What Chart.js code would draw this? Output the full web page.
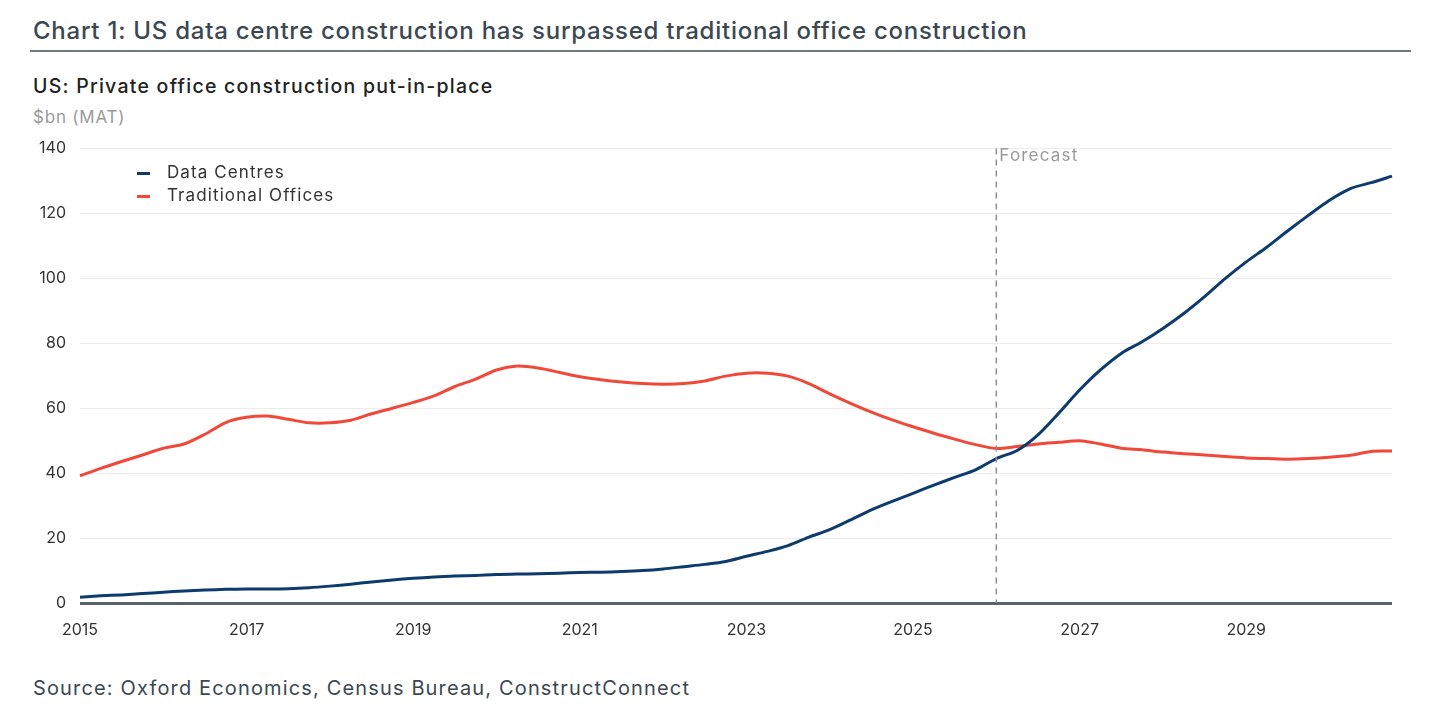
<!DOCTYPE html>
<html>
<head>
<meta charset="utf-8">
<script src="https://cdn.jsdelivr.net/npm/chart.js@4.4.1/dist/chart.umd.min.js"></script>
<style>
  body { margin: 0; background: #fff; font-family: Inter, "Noto Sans", sans-serif; }
  #wrap { position: relative; width: 1439px; height: 724px; overflow: hidden; }
  #title { position: absolute; left: 33px; top: 16px; font-size: 24px; letter-spacing: 0.75px; font-weight: 500; color: #3b4852; }
  #rule { position: absolute; left: 30px; top: 50px; width: 1381px; height: 2px; background: #6e7a83; }
  #subtitle { position: absolute; left: 33px; top: 74px; font-size: 19.5px; letter-spacing: 1.25px; font-weight: 500; color: #222; }
  #unit { position: absolute; left: 33px; top: 107px; font-size: 17px; letter-spacing: 0.8px; color: #9a9a9a; }
  #source { position: absolute; left: 33px; top: 676px; font-size: 20px; letter-spacing: 1.15px; color: #3b4852; }
  #legend { position: absolute; left: 137px; top: 161px; font-size: 17px; letter-spacing: 1.1px; color: #333; }
  .item { height: 23px; line-height: 23px; }
  .swatch { display: inline-block; width: 13px; height: 3px; vertical-align: middle; margin-right: 17px; }
  #holder { position: absolute; left: 0; top: 125px; width: 1439px; height: 535px; }
</style>
</head>
<body>
<div id="wrap">
  <div id="title">Chart 1: US data centre construction has surpassed traditional office construction</div>
  <div id="rule"></div>
  <div id="subtitle">US: Private office construction put-in-place</div>
  <div id="unit">$bn (MAT)</div>
  <div id="holder"><canvas id="chart"></canvas></div>
  <div id="legend">
    <div class="item"><span class="swatch" style="background:#0d3b6e"></span>Data Centres</div>
    <div class="item"><span class="swatch" style="background:#f0493a"></span>Traditional Offices</div>
  </div>
  <div id="source">Source: Oxford Economics, Census Bureau, ConstructConnect</div>
</div>
<script>
// quarterly, 2015 Q1 .. 2030 Q4
const quarters = [
  "2015 Q1","2015 Q2","2015 Q3","2015 Q4","2016 Q1","2016 Q2","2016 Q3","2016 Q4",
  "2017 Q1","2017 Q2","2017 Q3","2017 Q4","2018 Q1","2018 Q2","2018 Q3","2018 Q4",
  "2019 Q1","2019 Q2","2019 Q3","2019 Q4","2020 Q1","2020 Q2","2020 Q3","2020 Q4",
  "2021 Q1","2021 Q2","2021 Q3","2021 Q4","2022 Q1","2022 Q2","2022 Q3","2022 Q4",
  "2023 Q1","2023 Q2","2023 Q3","2023 Q4","2024 Q1","2024 Q2","2024 Q3","2024 Q4",
  "2025 Q1","2025 Q2","2025 Q3","2025 Q4","2026 Q1","2026 Q2","2026 Q3","2026 Q4",
  "2027 Q1","2027 Q2","2027 Q3","2027 Q4","2028 Q1","2028 Q2","2028 Q3","2028 Q4",
  "2029 Q1","2029 Q2","2029 Q3","2029 Q4","2030 Q1","2030 Q2","2030 Q3","2030 Q4"
];
const yearTicks = ["2015", "2017", "2019", "2021", "2023", "2025", "2027", "2029"];
const forecastStart = "2026 Q1";

const dataCentres = [
  1.8, 2.2, 2.5, 2.9, 3.3, 3.7, 4.0, 4.2,
  4.3, 4.3, 4.4, 4.7, 5.2, 5.8, 6.5, 7.1,
  7.6, 8.0, 8.3, 8.5, 8.8, 8.9, 9.0, 9.2,
  9.4, 9.5, 9.7, 10.0, 10.5, 11.2, 11.9, 12.8,
  14.4, 15.9, 17.7, 20.3, 22.6, 25.6, 28.7, 31.3,
  33.8, 36.3, 38.7, 41.0, 44.5, 47.0, 51.8, 58.5,
  65.6, 71.8, 76.9, 80.5, 84.6, 89.2, 94.4, 100.0,
  105.1, 109.7, 114.7, 119.5, 124.1, 127.7, 129.5, 131.5
];
const traditionalOffices = [
  39.2, 41.5, 43.6, 45.6, 47.7, 49.0, 52.0, 55.6,
  57.2, 57.6, 56.6, 55.5, 55.5, 56.3, 58.3, 60.0,
  61.8, 63.8, 66.7, 69.0, 71.8, 73.0, 72.4, 71.1,
  69.7, 68.8, 68.1, 67.6, 67.4, 67.6, 68.4, 69.9,
  70.8, 70.8, 69.9, 67.6, 64.4, 61.5, 58.8, 56.4,
  54.3, 52.3, 50.5, 48.8, 47.6, 48.2, 49.0, 49.5,
  50.0, 49.0, 47.7, 47.2, 46.5, 46.0, 45.6, 45.1,
  44.7, 44.5, 44.3, 44.5, 44.9, 45.5, 46.7, 46.8
];

const forecastLine = {
  id: 'forecastLine',
  afterDatasetsDraw(chart) {
    const ctx = chart.ctx;
    const x = chart.scales.x.getPixelForValue(quarters.indexOf(forecastStart));
    const area = chart.chartArea;
    ctx.save();
    ctx.strokeStyle = '#8a9096';
    ctx.lineWidth = 1.5;
    ctx.setLineDash([6, 5]);
    ctx.beginPath();
    ctx.moveTo(x, area.top);
    ctx.lineTo(x, area.bottom);
    ctx.stroke();
    ctx.setLineDash([]);
    ctx.fillStyle = '#9a9a9a';
    ctx.font = '17px Inter, "Noto Sans", sans-serif';
    ctx.letterSpacing = '1.2px';
    ctx.textBaseline = 'top';
    ctx.fillText('Forecast', x + 3, area.top - 1);
    ctx.restore();
  }
};

const ctx = document.getElementById('chart').getContext('2d');
const chart = new Chart(ctx, {
  type: 'line',
  data: {
    labels: quarters,
    datasets: [{
      label: 'Data Centres',
      data: dataCentres,
      borderColor: '#0d3b6e',
      borderWidth: 3,
      pointRadius: 0,
      tension: 0.3
    }, {
      label: 'Traditional Offices',
      data: traditionalOffices,
      borderColor: '#f0493a',
      borderWidth: 3,
      pointRadius: 0,
      tension: 0.3
    }]
  },
  options: {
    responsive: true,
    maintainAspectRatio: false,
    animation: false,
    layout: { padding: { top: 13, right: 47, left: 0, bottom: 0 } },
    plugins: { legend: { display: false }, tooltip: { enabled: false } },
    scales: {
      x: {
        offset: false,
        grid: { display: false },
        border: { display: false },
        afterFit(scale) { scale.height = 57; },
        ticks: {
          autoSkip: false,
          maxRotation: 0,
          padding: 10,
          color: '#333',
          font: { family: 'Inter, "Noto Sans", sans-serif', size: 16 },
          callback(value) {
            const q = quarters[value];
            const year = q.slice(0, 4);
            return (q.endsWith('Q1') && yearTicks.includes(year)) ? year : '';
          }
        }
      },
      y: {
        min: 0,
        max: 140,
        afterFit(scale) { scale.width = 80; },
        border: { display: false },
        grid: {
          drawTicks: false,
          color: c => c.tick.value === 0 ? '#5b636a' : '#ececec',
          lineWidth: c => c.tick.value === 0 ? 3 : 1
        },
        ticks: {
          stepSize: 20,
          padding: 14,
          color: '#333',
          font: { family: 'Inter, "Noto Sans", sans-serif', size: 16 }
        }
      }
    }
  },
  plugins: [forecastLine]
});
</script>
</body>
</html>
